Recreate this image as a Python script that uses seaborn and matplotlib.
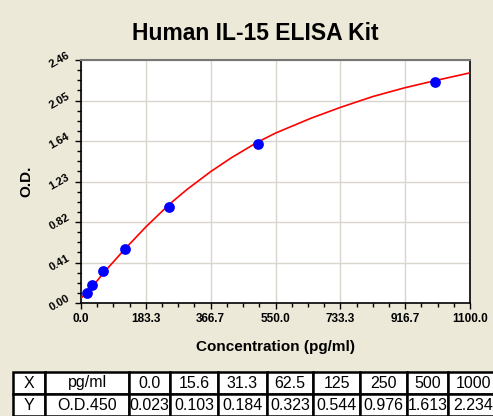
import numpy as np
import pandas as pd
import matplotlib
matplotlib.use('Agg')
import matplotlib.pyplot as plt
from matplotlib.ticker import MultipleLocator
import seaborn as sns

# standard points (the 0.0 blank is not drawn on the chart)
conc = [15.6, 31.3, 62.5, 125, 250, 500, 1000]
od = [0.103, 0.184, 0.323, 0.544, 0.976, 1.613, 2.234]

# fitted curve
curve_x = [0, 15.6, 31.3, 62.5, 100, 125, 183.3, 250, 300, 366.7, 425, 500, 550,
           650, 733.3, 825, 916.7, 1000, 1100]
curve_y = [0.05, 0.10, 0.16, 0.30, 0.45, 0.55, 0.77, 1.00, 1.15, 1.33, 1.47, 1.63, 1.72,
           1.87, 1.98, 2.09, 2.18, 2.25, 2.33]

# table under the chart
table_x = ['X', 'pg/ml', '0.0', '15.6', '31.3', '62.5', '125', '250', '500', '1000']
table_y = ['Y', 'O.D.450', '0.023', '0.103', '0.184', '0.323', '0.544', '0.976', '1.613', '2.234']

bg = '#ECE9D8'
sns.set_style('ticks')
plt.rcParams['font.family'] = ['Liberation Sans', 'DejaVu Sans']
plt.rcParams['text.color'] = 'black'
plt.rcParams['axes.labelcolor'] = 'black'
plt.rcParams['xtick.color'] = 'black'
plt.rcParams['ytick.color'] = 'black'

fig = plt.figure(figsize=(4.93, 4.16), dpi=100, facecolor=bg)
ax = fig.add_axes([81 / 493, 1 - 303 / 416, 389 / 493, 243 / 416])
ax.set_facecolor('white')

df_pts = pd.DataFrame({'x': conc, 'y': od})
df_fit = pd.DataFrame({'x': curve_x, 'y': curve_y})
sns.lineplot(data=df_fit, x='x', y='y', ax=ax, color='red', linewidth=1.2, zorder=3)
sns.scatterplot(data=df_pts, x='x', y='y', ax=ax, color='#0000FF', s=60,
                edgecolor='#0000FF', linewidth=0, zorder=4)

ax.set_xlim(0, 1100)
ax.set_ylim(0, 2.46)
ax.set_xticks(np.arange(7) * 1100 / 6)
ax.xaxis.set_minor_locator(MultipleLocator(1100 / 24))
ax.set_xticklabels(['%.1f' % v for v in np.arange(7) * 1100 / 6], fontsize=8.5, fontweight='bold')
ax.set_yticks([0.41 * i for i in range(7)])
ax.yaxis.set_minor_locator(MultipleLocator(0.1025))
ax.set_yticklabels(['%.2f' % (0.41 * i) for i in range(7)], fontsize=8, fontweight='bold',
                   rotation=30, va='center', ha='right')
ax.tick_params(axis='both', which='major', length=4, width=1, direction='out', pad=3)
ax.tick_params(axis='both', which='minor', length=3, width=1, direction='out')
ax.grid(True, which='major', color='#D8D5CC', linewidth=1)
ax.set_axisbelow(True)
for side in ['left', 'bottom', 'right']:
    ax.spines[side].set_color('black')
    ax.spines[side].set_linewidth(1.2)
ax.spines['top'].set_color('#777777')
ax.spines['top'].set_linewidth(1.5)

ax.set_xlabel('Concentration (pg/ml)', fontsize=11, fontweight='bold', labelpad=11)
ax.set_ylabel('O.D.', fontsize=11, fontweight='bold', labelpad=10)
fig.text(255 / 493, 1 - 33 / 416, 'Human IL-15 ELISA Kit', fontsize=16.5, fontweight='bold',
         ha='center', va='center')

# table
tab_ax = fig.add_axes([13 / 493, 0, 485 / 493, 44 / 416])
tab_ax.axis('off')
widths = [32, 84, 41, 48, 49, 46, 47, 47, 41, 50]
tbl = tab_ax.table(cellText=[table_x, table_y], cellLoc='center', bbox=[0, 0, 1, 1],
                   colWidths=[w / sum(widths) for w in widths])
tbl.auto_set_font_size(False)
tbl.set_fontsize(11.5)
for cell in tbl.get_celld().values():
    cell.set_edgecolor('black')
    cell.set_linewidth(1.8)
    cell.set_facecolor('white')
    cell.PAD = 0.02

fig.savefig('out.png', dpi=100, facecolor=bg)
